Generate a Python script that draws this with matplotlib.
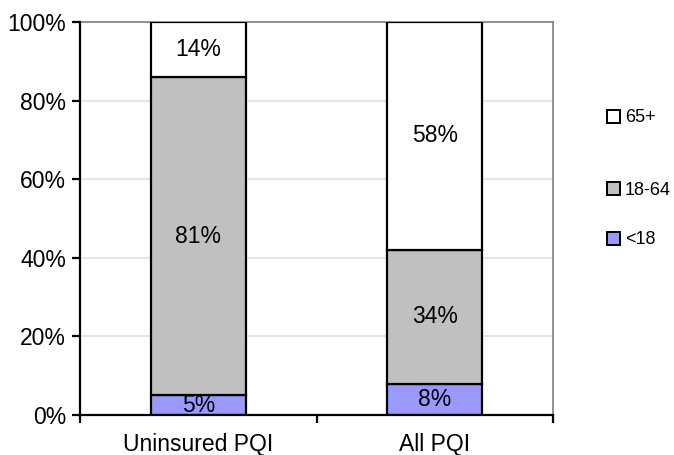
import matplotlib
matplotlib.use("Agg")
import matplotlib.pyplot as plt
from matplotlib.patches import Patch
from matplotlib.ticker import MultipleLocator, FixedLocator, PercentFormatter

plt.rcParams['font.family'] = ['Liberation Sans', 'DejaVu Sans']

groups = ['Uninsured PQI', 'All PQI']
ages = ['<18', '18-64', '65+']
under18 = [5, 8]
adult = [81, 34]
senior = [14, 58]
colors = ['#9999ff', '#c0c0c0', '#ffffff']

fig = plt.figure(figsize=(6.74, 4.55), dpi=100)
ax = fig.add_axes([0.1187, 0.0879, 0.7018, 0.8637])

x = list(range(len(groups)))
bottom = [0, 0]
for vals, col, lab in zip([under18, adult, senior], colors, ages):
    bars = ax.bar(x, vals, width=0.4, bottom=bottom, color=col,
                  edgecolor='black', linewidth=1.6, label=lab, zorder=3)
    for b, v, b0 in zip(bars, vals, bottom):
        ax.text(b.get_x() + b.get_width() / 2, b0 + v / 2, f'{v}%',
                ha='center', va='center', fontsize=16.5, zorder=4)
    bottom = [b0 + v for b0, v in zip(bottom, vals)]

ax.set_xlim(-0.5, 1.5)
ax.set_ylim(0, 100)
ax.yaxis.set_major_locator(MultipleLocator(20))
ax.yaxis.set_major_formatter(PercentFormatter(decimals=0))
ax.grid(axis='y', color='#e0e0e0', linewidth=1.2, zorder=0)

# category labels between boundary ticks
ax.set_xticks(x)
ax.set_xticklabels(groups)
ax.tick_params(axis='x', which='major', length=0, pad=13, labelsize=16.5)
ax.xaxis.set_minor_locator(FixedLocator([-0.5, 0.5, 1.5]))
ax.tick_params(axis='x', which='minor', length=6, width=1.6, direction='out')
ax.tick_params(axis='y', length=6, width=1.6, direction='out', labelsize=16.5, pad=4)

for side in ['left', 'bottom']:
    ax.spines[side].set_linewidth(1.6)
    ax.spines[side].set_zorder(5)
for side in ['top', 'right']:
    ax.spines[side].set_color('#808080')
    ax.spines[side].set_linewidth(1.2)

# one legend entry per age band, 65+ on top
legend_y = {'65+': 1 - 118 / 455, '18-64': 1 - 190 / 455, '<18': 1 - 240 / 455}
for lab, col in zip(ages, colors):
    h = Patch(facecolor=col, edgecolor='black', linewidth=1.4)
    fig.legend(handles=[h], labels=[lab], loc='center left',
               bbox_to_anchor=(0.900, legend_y[lab]), frameon=False,
               fontsize=13, handlelength=0.75, handleheight=0.75,
               handletextpad=0.25, borderpad=0, borderaxespad=0)

fig.savefig('out.png', dpi=100)
